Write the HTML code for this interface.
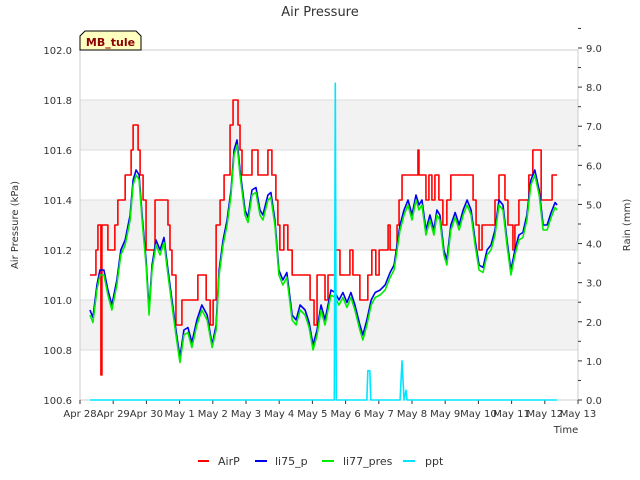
<!DOCTYPE html>
<html><head><meta charset="utf-8"><style>
body{margin:0;background:#fff}
svg{display:block;font-family:"DejaVu Sans","Liberation Sans",sans-serif}
</style></head><body>
<svg id="chart" width="640" height="480"></svg>
<script>
const dayLabels=["Apr 28","Apr 29","Apr 30","May 1","May 2","May 3","May 4","May 5","May 6","May 7","May 8","May 9","May 10","May 11","May 12","May 13"];
const leftTicks=[100.6,100.8,101.0,101.2,101.4,101.6,101.8,102.0];
const rightTicks=[0,1,2,3,4,5,6,7,8,9];
const liT=[0.30,0.39,0.51,0.60,0.72,0.84,0.96,1.11,1.23,1.36,1.51,1.60,1.69,1.78,1.87,1.99,2.08,2.17,2.29,2.41,2.53,2.65,2.77,2.89,3.01,3.13,3.25,3.37,3.52,3.67,3.83,3.98,4.10,4.19,4.31,4.43,4.55,4.64,4.73,4.82,4.97,5.06,5.18,5.30,5.42,5.51,5.66,5.75,5.87,5.99,6.11,6.23,6.39,6.51,6.63,6.78,6.90,7.02,7.14,7.26,7.38,7.47,7.56,7.68,7.80,7.92,8.04,8.16,8.28,8.43,8.52,8.64,8.77,8.89,9.04,9.19,9.34,9.46,9.55,9.64,9.76,9.88,10.00,10.12,10.21,10.30,10.42,10.54,10.66,10.75,10.84,10.96,11.05,11.17,11.30,11.42,11.54,11.66,11.78,11.90,12.02,12.14,12.26,12.38,12.50,12.62,12.74,12.86,12.98,13.10,13.22,13.34,13.46,13.58,13.70,13.83,13.95,14.07,14.19,14.31,14.37];
const li75=[100.96,100.93,101.06,101.12,101.12,101.04,100.98,101.08,101.20,101.24,101.34,101.48,101.52,101.50,101.34,101.16,100.96,101.14,101.24,101.20,101.25,101.12,101.00,100.88,100.77,100.88,100.89,100.83,100.92,100.98,100.94,100.82,100.90,101.12,101.24,101.32,101.44,101.60,101.64,101.52,101.36,101.33,101.44,101.45,101.36,101.34,101.42,101.43,101.32,101.12,101.08,101.11,100.94,100.92,100.98,100.96,100.91,100.82,100.88,100.98,100.92,100.98,101.04,101.03,101.00,101.03,100.99,101.03,100.98,100.90,100.86,100.92,101.00,101.03,101.04,101.06,101.11,101.14,101.22,101.30,101.36,101.40,101.34,101.42,101.38,101.40,101.28,101.34,101.28,101.36,101.34,101.20,101.16,101.30,101.35,101.30,101.36,101.40,101.36,101.24,101.14,101.13,101.20,101.22,101.28,101.40,101.38,101.24,101.12,101.20,101.26,101.27,101.34,101.48,101.52,101.44,101.30,101.30,101.35,101.39,101.38];
const li77=[100.94,100.91,101.04,101.10,101.10,101.02,100.96,101.06,101.18,101.22,101.32,101.46,101.50,101.48,101.32,101.14,100.94,101.12,101.22,101.18,101.23,101.10,100.98,100.86,100.75,100.86,100.87,100.81,100.90,100.96,100.92,100.81,100.88,101.10,101.22,101.30,101.42,101.58,101.62,101.50,101.34,101.31,101.42,101.43,101.34,101.32,101.40,101.41,101.30,101.10,101.06,101.09,100.92,100.90,100.96,100.94,100.89,100.80,100.86,100.96,100.90,100.96,101.02,101.01,100.98,101.01,100.97,101.01,100.96,100.88,100.84,100.90,100.98,101.01,101.02,101.04,101.09,101.12,101.20,101.28,101.34,101.38,101.32,101.40,101.36,101.38,101.26,101.32,101.26,101.34,101.32,101.18,101.14,101.28,101.33,101.28,101.34,101.38,101.34,101.22,101.12,101.11,101.18,101.20,101.26,101.38,101.36,101.22,101.10,101.18,101.24,101.25,101.32,101.46,101.50,101.42,101.28,101.28,101.33,101.37,101.36];
const airT=[0.30,0.48,0.54,0.63,0.66,0.84,1.05,1.14,1.36,1.54,1.60,1.75,1.81,1.90,1.99,2.26,2.65,2.71,2.77,2.89,3.07,3.55,3.80,3.92,4.01,4.10,4.22,4.34,4.52,4.61,4.76,4.82,4.88,5.18,5.36,5.66,5.78,5.90,5.96,6.02,6.14,6.26,6.39,6.93,7.05,7.14,7.38,7.47,7.68,7.83,8.13,8.22,8.43,8.67,8.79,8.91,9.01,9.28,9.34,9.55,9.61,9.70,10.18,10.21,10.42,10.51,10.60,10.69,10.81,10.93,11.05,11.17,11.84,11.93,12.02,12.11,12.50,12.62,12.80,12.89,13.04,13.10,13.22,13.52,13.64,13.89,14.22,14.37];
const airV=[101.1,101.2,101.3,100.7,101.3,101.2,101.3,101.4,101.5,101.6,101.7,101.6,101.5,101.4,101.2,101.4,101.3,101.2,101.1,100.9,101.0,101.1,101.0,100.9,101.0,101.3,101.4,101.5,101.7,101.8,101.7,101.6,101.5,101.6,101.5,101.6,101.5,101.4,101.3,101.2,101.3,101.2,101.1,101.0,100.9,101.1,101.0,101.1,101.2,101.1,101.2,101.1,101.0,101.1,101.2,101.1,101.2,101.3,101.2,101.3,101.4,101.5,101.6,101.5,101.4,101.5,101.4,101.5,101.4,101.3,101.4,101.5,101.4,101.3,101.2,101.3,101.4,101.5,101.4,101.3,101.2,101.3,101.4,101.5,101.6,101.4,101.5,101.5];
const pptT=[0.30,7.66,7.69,7.72,8.64,8.67,8.73,8.76,9.64,9.70,9.76,9.82,9.85,14.37];
const pptV=[0,0,8.1,0,0,0.75,0.75,0,0,1.0,0,0.25,0,0];

const L=80,R=578,T=50,B=400;
const xs=d=>L+d*(R-L)/15;
const yl=v=>B-(v-100.6)*(B-T)/1.4;
const yr=v=>B-v*(B-T+2)/9;
const svg=document.getElementById('chart');
const NS='http://www.w3.org/2000/svg';
function mk(tag,attrs,parent){const e=document.createElementNS(NS,tag);for(const k in attrs)e.setAttribute(k,attrs[k]);(parent||svg).appendChild(e);return e;}

for(let i=0;i<leftTicks.length-1;i++){
  if(i%2===1){const r=mk('rect',{x:L,y:yl(leftTicks[i+1]),width:R-L,height:yl(leftTicks[i])-yl(leftTicks[i+1]),fill:'#f2f2f2'});
  
  }
}
leftTicks.forEach(v=>{
  const g=mk('line',{x1:L,x2:R,y1:yl(v),y2:yl(v),stroke:'#dcdcdc','stroke-width':1});
  
  
  const t=mk('text',{x:L-8,y:yl(v)+4,'text-anchor':'end','font-size':10,fill:'#333'});
  t.textContent=v.toFixed(1);
  
  
});
mk('rect',{x:L,y:T,width:R-L,height:B-T,fill:'none',stroke:'#ccc'});
rightTicks.forEach(v=>{
  mk('line',{x1:R,x2:R+4,y1:yr(v),y2:yr(v),stroke:'#333'});
  mk('line',{x1:R,x2:R+3,y1:yr(v+0.5),y2:yr(v+0.5),stroke:'#333'});
  const t=mk('text',{x:R+8,y:yr(v)+4,'font-size':10,fill:'#333'});
  t.textContent=v.toFixed(1);
  
  
});
dayLabels.forEach((s,i)=>{
  mk('line',{x1:xs(i),x2:xs(i),y1:B,y2:B+4,stroke:'#333'});
  const t=mk('text',{x:xs(i),y:B+17,'text-anchor':'middle','font-size':10,fill:'#333'});
  t.textContent=s;
  
  
});

function poly(ts,vs,yf,color,w,step,name){
  let d='';
  ts.forEach((t,i)=>{
    const x=xs(t),y=yf(vs[i]);
    if(i===0)d+='M'+x+','+y;
    else if(step){d+='L'+x+','+yf(vs[i-1])+'L'+x+','+y;}
    else d+='L'+x+','+y;
  });
  const p=mk('path',{d:d,fill:'none',stroke:color,'stroke-width':w,'stroke-linejoin':'round'});
  
  
}
poly(airT,airV,yl,'#ff0000',1.6,true,'airp-line');
poly(liT,li75,yl,'#0000ee',1.6,false,'li75-line');
poly(liT,li77,yl,'#00ee00',1.6,false,'li77-line');
poly(pptT,pptV,yr,'#00e5ff',1.6,false,'ppt-line');
</script>
<svg width="640" height="480" style="position:absolute;left:0;top:0;font-family:'DejaVu Sans','Liberation Sans',sans-serif">
<text x="320" y="16" text-anchor="middle" font-size="13" fill="#333">Air Pressure</text>
<text x="18" y="225" text-anchor="middle" font-size="10" fill="#333" transform="rotate(-90 18 225)">Air Pressure (kPa)</text>
<text x="630" y="225" text-anchor="middle" font-size="10" fill="#333" transform="rotate(-90 630 225)">Rain (mm)</text>
<text x="566" y="433" text-anchor="middle" font-size="10" fill="#333">Time</text>
<g>
<path d="M80,50 L80,36 L85,31 L136,31 L141,36 L141,50 Z" fill="#ffffc0" stroke="#000" stroke-width="1"/>
<text x="110.5" y="46" text-anchor="middle" font-size="11" font-weight="bold" fill="#8b0000">MB_tule</text>
</g>
<g>
<g><line x1="198" x2="209" y1="461" y2="461" stroke="#ff0000" stroke-width="2"/><text x="218" y="465" font-size="11" fill="#333">AirP</text></g>
<g><line x1="255" x2="267" y1="461" y2="461" stroke="#0000ee" stroke-width="2"/><text x="275" y="465" font-size="11" fill="#333">li75_p</text></g>
<g><line x1="322" x2="334" y1="461" y2="461" stroke="#00ee00" stroke-width="2"/><text x="343" y="465" font-size="11" fill="#333">li77_pres</text></g>
<g><line x1="403" x2="415" y1="461" y2="461" stroke="#00e5ff" stroke-width="2"/><text x="425" y="465" font-size="11" fill="#333">ppt</text></g>
</g>
</svg>
</body></html>
